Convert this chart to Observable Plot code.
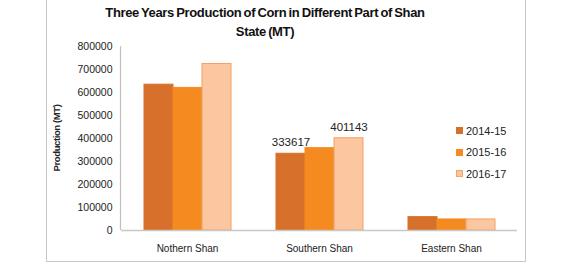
<!DOCTYPE html>
<html>
<head>
<meta charset="utf-8">
<script src="https://cdn.jsdelivr.net/npm/d3@7"></script>
<script src="https://cdn.jsdelivr.net/npm/@observablehq/plot@0.6"></script>
<style>
  html, body { margin: 0; padding: 0; background: #fff; }
  #wrap { position: relative; width: 569px; height: 269px; overflow: hidden; font-family: "Liberation Sans", Arial, sans-serif; }
  #border { position: absolute; left: 46px; top: -4px; width: 480px; height: 266px; border: 1px solid #c8c8c8; box-sizing: border-box; }
  #title { position: absolute; left: 0; width: 530px; top: 3px; text-align: center; font-weight: bold; font-size: 13px; line-height: 19px; letter-spacing: -0.35px; word-spacing: -1px; color: #111; }
  #chart { position: absolute; left: 0; top: 40px; }
  #legend { position: absolute; left: 456px; top: 120px; font-size: 11px; color: #222; }
  #legend div { height: 21.5px; display: flex; align-items: center; }
  #legend span.sw { display: inline-block; width: 7px; height: 7px; margin-right: 3px; box-sizing: border-box; }
</style>
</head>
<body>
<div id="wrap">
  <div id="border"></div>
  <div id="title">Three Years Production of Corn in Different Part of Shan<br>State (MT)</div>
  <div id="chart"></div>
  <div id="legend"></div>
</div>
<script>
const regions = ["Nothern Shan", "Southern Shan", "Eastern Shan"];
const years = ["2014-15", "2015-16", "2016-17"];
const y2014 = [634000, 333617, 58000];
const y2015 = [620000, 358000, 48000];
const y2016 = [724000, 401143, 48000];
const southernLabels = { "2014-15": 333617, "2016-17": 401143 };
const colors = ["#d6702a", "#f58a20", "#fbc6a0"];
const strokes = ["#d6702a", "#f58a20", "#f2a263"];
const yTicks = [0, 100000, 200000, 300000, 400000, 500000, 600000, 700000, 800000];

const series = [y2014, y2015, y2016];
const data = [];
regions.forEach((r, i) => years.forEach((y, j) => data.push({region: r, year: y, value: series[j][i]})));
const labelled = data.filter(d => d.region === "Southern Shan" && southernLabels[d.year] !== undefined);

const plot = Plot.plot({
  width: 569,
  height: 229,
  marginLeft: 120,
  marginRight: 52,
  marginTop: 6,
  marginBottom: 39,
  style: { fontFamily: "Liberation Sans, Arial, sans-serif", background: "transparent" },
  fx: { domain: regions, padding: 0, label: null, tickSize: 0, tickPadding: 14 },
  x: { domain: years, paddingInner: 0, paddingOuter: 0.7, axis: null },
  y: { domain: [0, 800000], ticks: yTicks, tickFormat: d => String(d), tickSize: 0, tickPadding: 9, label: null },
  color: { domain: years, range: colors },
  marks: [
    Plot.barY(data, { fx: "region", x: "year", y: "value", fill: "year", stroke: (d) => strokes[years.indexOf(d.year)], strokeWidth: 1 }),
    Plot.ruleY([0], { stroke: "#c8c8c8", strokeWidth: 1.5 }),
    Plot.text(labelled, { fx: "region", x: "year", y: "value", text: d => String(southernLabels[d.year]), dy: -11, fontSize: 11.5, fill: "#222" })
  ]
});

const svg = d3.select(plot);
svg.selectAll("[aria-label='y-axis tick label']").attr("font-size", 10.5).attr("fill", "#222");
svg.selectAll("[aria-label='fx-axis tick label']").attr("font-size", 10).attr("fill", "#222");

// y-axis line from the scales
const ys = plot.scale("y");
svg.append("line")
  .attr("x1", 120.5).attr("x2", 120.5)
  .attr("y1", ys.range[0]).attr("y2", ys.range[1])
  .attr("stroke", "#c0c0c0").attr("stroke-width", 1.2);

// y-axis title, rotated
svg.append("text")
  .attr("transform", "translate(60,98) rotate(-90)")
  .attr("text-anchor", "middle")
  .attr("font-size", 9.5)
  .attr("font-weight", "bold")
  .attr("letter-spacing", "-0.4")
  .attr("fill", "#222")
  .text("Production (MT)");

document.getElementById("chart").appendChild(plot);

const leg = document.getElementById("legend");
years.forEach((y, i) => {
  const row = document.createElement("div");
  row.innerHTML = `<span class="sw" style="background:${colors[i]};border:1px solid ${strokes[i]}"></span>${y}`;
  leg.appendChild(row);
});
</script>
</body>
</html>
